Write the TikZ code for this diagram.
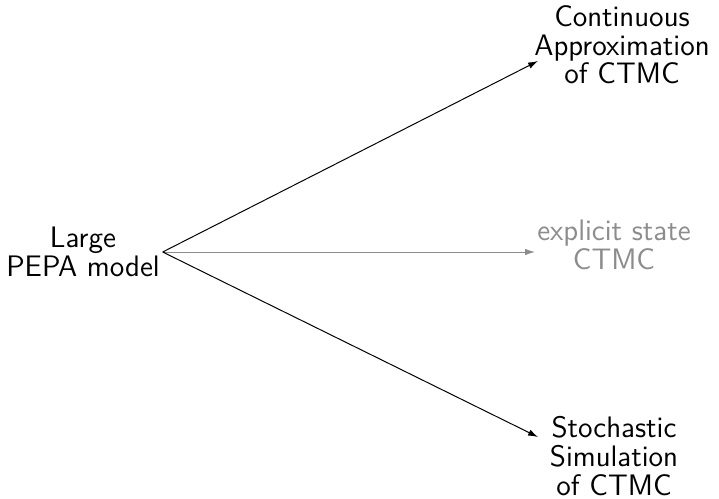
\documentclass[tikz,border=0pt]{standalone}
\usepackage{fontspec}
\usetikzlibrary{arrows.meta}
\begin{document}
\begin{tikzpicture}[x=0.405pt,y=-0.405pt,
  lbl/.style={font=\sffamily\fontsize{12}{11.6}\selectfont,align=center,inner sep=0pt},
  arr/.style={line width=0.4pt,-{Latex[length=4pt,width=2.6pt]}},
  faint/.style={black!45}]
\useasboundingbox (0,0) rectangle (719,498);
\node[lbl] (src) at (83,252) {Large\\PEPA model};
\node[lbl] (cont) at (622,45) {Continuous\\Approximation\\of CTMC};
\node[lbl,faint] (expl) at (614,245) {explicit state\\CTMC};
\node[lbl] (stoch) at (614,456) {Stochastic\\Simulation\\of CTMC};
\coordinate (tcont) at (538,61);
\coordinate (texpl) at (535,252);
\coordinate (tstoch) at (538,437);
\draw[arr] ([xshift=1pt]src.east) -- (tcont);
\draw[arr,faint] ([xshift=1pt]src.east) -- (texpl);
\draw[arr] ([xshift=1pt]src.east) -- (tstoch);
\end{tikzpicture}
\end{document}
